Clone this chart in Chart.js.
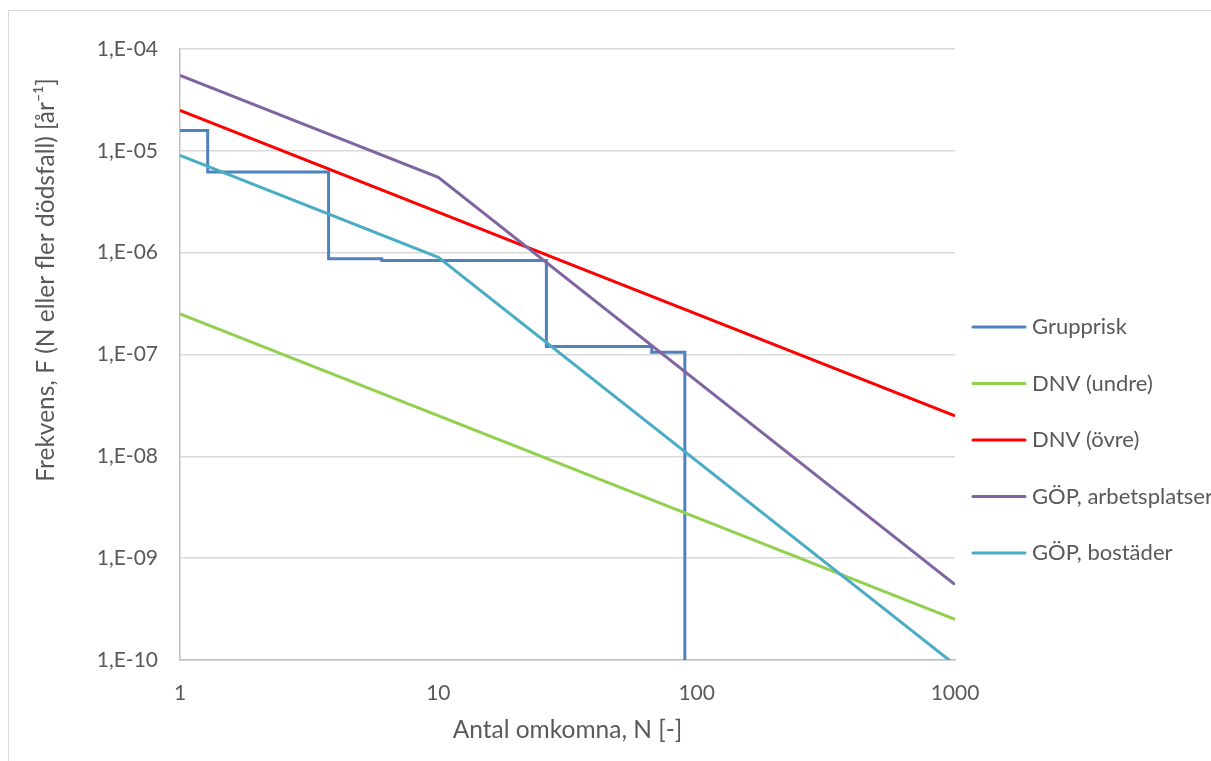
<!DOCTYPE html>
<html>
<head>
<meta charset="utf-8">
<script src="https://cdn.jsdelivr.net/npm/chart.js@4.4.1/dist/chart.umd.min.js"></script>
<style>
html, body { margin: 0; padding: 0; background: #fff; overflow: hidden; }
#frame { position: absolute; left: 8px; top: 10px; width: 1230px; height: 780px; border: 1px solid #d9d9d9; }
#wrap { position: absolute; left: 0; top: 0; width: 1211px; height: 761px; }
</style>
</head>
<body>
<div id="frame"></div>
<div id="wrap"><canvas id="chart"></canvas></div>
<script>
// Grupprisk (step curve)
const grupprN = [1, 1.28, 3.76, 6.04, 26.2, 67, 90];
const grupprF = [1.58e-5, 6.2e-6, 8.7e-7, 8.4e-7, 1.2e-7, 1.05e-7, 1e-12];
// DNV criteria
const dnvN = [1, 1000];
const dnvUndreF = [2.5e-7, 2.5e-10];
const dnvOvreF = [2.5e-5, 2.5e-8];
// GÖP criteria
const gopN = [1, 10, 1000];
const gopArbetF = [5.5e-5, 5.5e-6, 5.5e-10];
const gopBostF = [9e-6, 9e-7, 9e-11];

const xTicks = [1, 10, 100, 1000];
const xTickLabels = ['1', '10', '100', '1000'];
const yTicks = [1e-10, 1e-9, 1e-8, 1e-7, 1e-6, 1e-5, 1e-4];
const yTickLabels = ['1,E-10', '1,E-09', '1,E-08', '1,E-07', '1,E-06', '1,E-05', '1,E-04'];

const labels = ['Grupprisk', 'DNV (undre)', 'DNV (övre)', 'GÖP, arbetsplatser', 'GÖP, bostäder'];
const colors = ['#4f81bd', '#92d050', '#ff0000', '#8064a2', '#4bacc6'];
const yTitle = 'Frekvens, F (N eller fler dödsfall) [år⁻¹]';
const xTitle = 'Antal omkomna, N [-]';

function pts(xs, ys) {
    return xs.map((x, i) => ({ x: x, y: ys[i] }));
}

const textColor = '#595959';
const fontFamily = 'Lato';
Chart.defaults.font.family = fontFamily;
Chart.defaults.color = textColor;

let series = [
    pts(grupprN, grupprF),
    pts(dnvN, dnvUndreF),
    pts(dnvN, dnvOvreF),
    pts(gopN, gopArbetF),
    pts(gopN, gopBostF)
];

let datasets = series.map((data, i) => ({
    label: labels[i],
    data: data,
    borderColor: colors[i],
    backgroundColor: colors[i],
    borderWidth: 3,
    pointRadius: 0,
    tension: 0,
    fill: false,
    stepped: i == 0 ? 'before' : false,
    order: labels.length - i
}));

// legend and y title drawn like the spreadsheet ones
const sideLegend = {
    id: 'sideLegend',
    afterDraw(chart) {
        const ctx = chart.ctx;
        const x0 = chart.chartArea.right + 18;
        const y0 = 327, step = 56.5;
        chart.data.datasets.forEach((ds, i) => {
            let y = y0 + i * step;
            ctx.save();
            ctx.strokeStyle = ds.borderColor;
            ctx.lineWidth = 3;
            ctx.lineCap = 'round';
            ctx.beginPath();
            ctx.moveTo(x0, y);
            ctx.lineTo(x0 + 52, y);
            ctx.stroke();
            ctx.fillStyle = textColor;
            ctx.font = `22px ${fontFamily}`;
            ctx.textBaseline = 'middle';
            ctx.fillText(ds.label, x0 + 59, y);
            ctx.restore();
        });

        ctx.save();
        ctx.translate(46, 280);
        ctx.rotate(-Math.PI / 2);
        ctx.fillStyle = textColor;
        ctx.font = `24.5px ${fontFamily}`;
        ctx.textAlign = 'center';
        ctx.textBaseline = 'middle';
        ctx.fillText(yTitle, 0, 0);
        ctx.restore();
    }
};

new Chart(document.getElementById('chart'), {
    type: 'line',
    data: { datasets: datasets },
    plugins: [sideLegend],
    options: {
        responsive: true,
        maintainAspectRatio: false,
        animation: false,
        layout: { padding: { left: 20, top: 49, right: 256, bottom: 1 } },
        plugins: {
            legend: { display: false },
            tooltip: { enabled: false }
        },
        scales: {
            x: {
                type: 'logarithmic',
                min: 1,
                max: 1000,
                afterBuildTicks: (axis) => { axis.ticks = xTicks.map(v => ({ value: v })); },
                afterFit: (axis) => { axis.height = 100; },
                grid: { display: false },
                border: { display: true, color: '#bfbfbf', width: 1.5 },
                ticks: {
                    padding: 13,
                    maxRotation: 0,
                    font: { size: 21 },
                    callback: (v, i) => xTickLabels[i]
                },
                title: {
                    display: true,
                    text: xTitle,
                    font: { size: 24.5 },
                    padding: { top: 0, bottom: 15 }
                }
            },
            y: {
                type: 'logarithmic',
                min: 1e-10,
                max: 1e-4,
                afterBuildTicks: (axis) => { axis.ticks = yTicks.map(v => ({ value: v })); },
                afterFit: (axis) => { axis.width = 160; },
                grid: { color: '#d9d9d9', lineWidth: 1.5, drawTicks: false },
                border: { display: true, color: '#bfbfbf', width: 1.5 },
                ticks: {
                    padding: 22,
                    font: { size: 21 },
                    callback: (v, i) => yTickLabels[i]
                }
            }
        }
    }
});
</script>
</body>
</html>
